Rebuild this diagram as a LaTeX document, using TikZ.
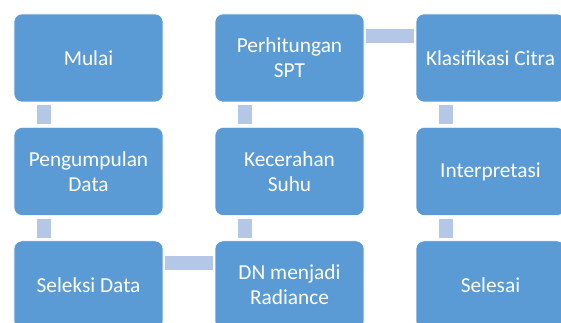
\documentclass[tikz,border=0pt]{standalone}
\usepackage{fontspec}
\setmainfont{Carlito}
\definecolor{boxblue}{RGB}{91,155,213}
\definecolor{barblue}{RGB}{180,199,231}
\tikzstyle{process} = [rectangle, rounded corners=6pt, minimum width=111.75pt, minimum height=66pt, text centered, align=center, draw=white, fill=boxblue, text=white, font=\fontsize{16}{18.5}\selectfont]
\tikzstyle{bar} = [line width=10.5pt, draw=barblue, shorten <=2.25pt, shorten >=2.25pt]
\begin{document}
\begin{tikzpicture}[node distance=85.1pt]
\useasboundingbox (-66.375pt,43.5pt) rectangle (354.375pt,-198.75pt);
\clip (-66.375pt,43.5pt) rectangle (354.375pt,-198.75pt);
\node (start) [process] {Mulai};
\node (pro1) [process, below of=start] {Pengumpulan\\Data};
\node (pro2) [process, below of=pro1] {Seleksi Data};
\node (pro3) [process, right of=pro2, xshift=65.65pt] {DN menjadi\\Radiance};
\node (pro4) [process, above of=pro3] {Kecerahan\\Suhu};
\node (pro5) [process, above of=pro4] {Perhitungan\\SPT};
\node (pro6) [process, right of=pro5, xshift=65.65pt] {Klasifikasi Citra};
\node (pro7) [process, below of=pro6] {Interpretasi};
\node (stop) [process, below of=pro7] {Selesai};

\draw [bar] ([xshift=22.5pt]start.south west) -- ([xshift=22.5pt]pro1.north west);
\draw [bar] ([xshift=22.5pt]pro1.south west) -- ([xshift=22.5pt]pro2.north west);
\draw [bar, shorten <=1.5pt, shorten >=1.5pt] ([yshift=-16.5pt]pro2.north east) -- ([yshift=-16.5pt]pro3.north west);
\draw [bar] ([xshift=22.5pt]pro3.north west) -- ([xshift=22.5pt]pro4.south west);
\draw [bar] ([xshift=22.5pt]pro4.north west) -- ([xshift=22.5pt]pro5.south west);
\draw [bar, shorten <=1.5pt, shorten >=1.5pt] ([yshift=-16.5pt]pro5.north east) -- ([yshift=-16.5pt]pro6.north west);
\draw [bar] ([xshift=22.5pt]pro6.south west) -- ([xshift=22.5pt]pro7.north west);
\draw [bar] ([xshift=22.5pt]pro7.south west) -- ([xshift=22.5pt]stop.north west);

\end{tikzpicture}
\end{document}
